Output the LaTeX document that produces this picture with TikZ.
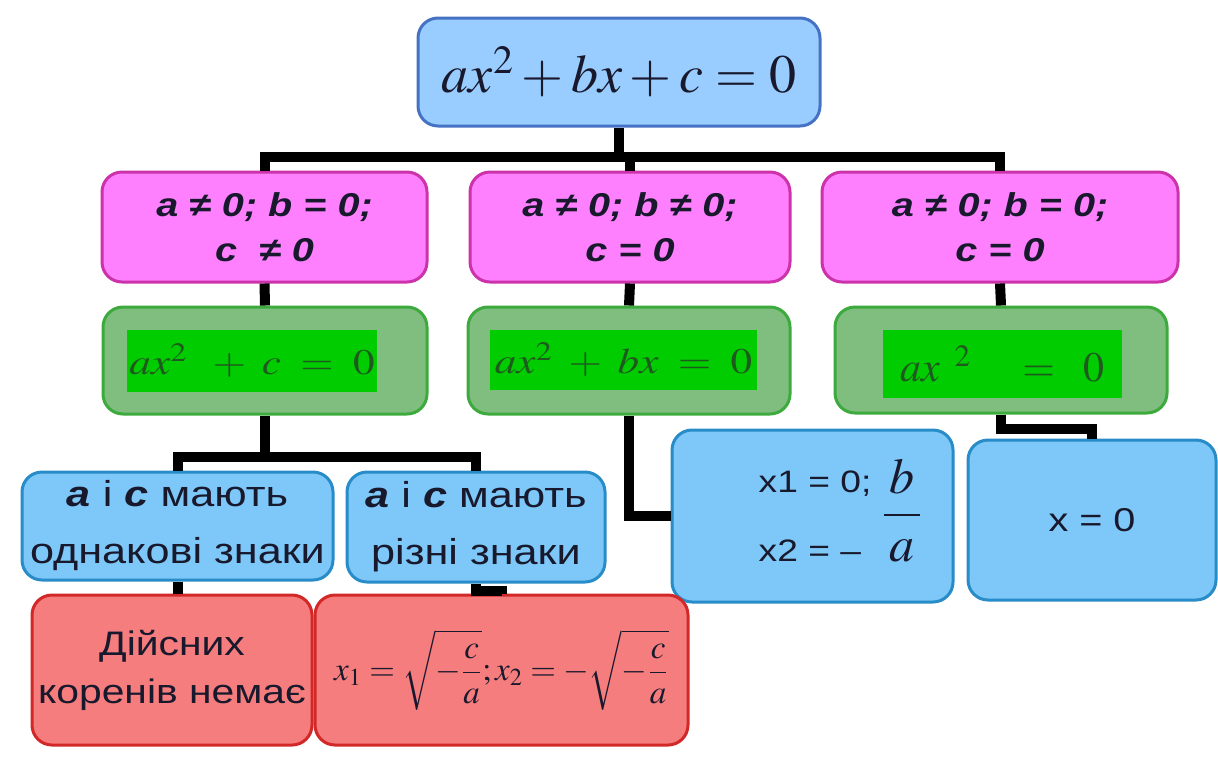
\documentclass[tikz,border=0pt]{standalone}
\usepackage{amsmath}
\usepackage{mathptmx}
\usepackage[no-math]{fontspec}
\usepackage{graphicx}
\newfontfamily\slide{Liberation Sans}[FakeStretch=1.2]
\definecolor{Tfill}{RGB}{153,204,255}
\definecolor{Tline}{RGB}{70,114,196}
\definecolor{Pfill}{RGB}{255,128,255}
\definecolor{Pline}{RGB}{204,51,170}
\definecolor{Gfill}{RGB}{128,190,128}
\definecolor{Gline}{RGB}{60,170,60}
\definecolor{Geq}{RGB}{0,204,0}
\definecolor{Gtext}{RGB}{30,90,30}
\definecolor{Bfill}{RGB}{125,200,248}
\definecolor{Bline}{RGB}{40,140,200}
\definecolor{Rfill}{RGB}{245,125,125}
\definecolor{Rline}{RGB}{210,40,40}
\definecolor{Ink}{RGB}{25,25,45}
\newcommand\widen[1]{\scalebox{1.2}[1]{#1}}
\newcommand\coef[1]{\textbf{\textit{#1}}}

\begin{document}
\begin{tikzpicture}[x=0.5pt,y=-0.5pt,
  box/.style={draw,rounded corners=10pt,line width=1.5pt,inner sep=0pt,align=center,text=Ink},
  topbox/.style={box,fill=Tfill,draw=Tline,font=\fontsize{27}{30}\selectfont},
  condbox/.style={box,fill=Pfill,draw=Pline,font=\slide\bfseries\itshape\fontsize{16.5}{22.5}\selectfont},
  eqbox/.style={box,fill=Gfill,draw=Gline},
  eqfill/.style={fill=Geq,inner sep=0pt,text=Gtext,font=\fontsize{18}{20}\selectfont},
  ansbox/.style={box,fill=Bfill,draw=Bline,font=\slide\fontsize{18}{28.5}\selectfont},
  rootbox/.style={box,fill=Rfill,draw=Rline,font=\slide\fontsize{17}{24}\selectfont},
  link/.style={line width=5pt,black}]
\path[use as bounding box] (0,0) rectangle (1218,772);
% equation and cases
\node[topbox,minimum width=201pt,minimum height=54pt] (top) at (619,72) {$ax^2+bx+c=0$};
\node[condbox,minimum width=162.5pt,minimum height=55pt] (p1) at (264.5,227) {a ≠ 0; b = 0;\\c \ ≠ 0};
\node[condbox,minimum width=160pt,minimum height=55pt] (p2) at (630,227) {a ≠ 0; b ≠ 0;\\c = 0};
\node[condbox,minimum width=178pt,minimum height=55pt] (p3) at (1000,227) {a ≠ 0; b = 0;\\c = 0};
% reduced equations
\node[eqbox,minimum width=162pt,minimum height=53.5pt] (g1) at (265,360.5) {};
\node[eqbox,minimum width=161pt,minimum height=53.5pt] (g2) at (629,360.5) {};
\node[eqbox,minimum width=166pt,minimum height=53pt] (g3) at (1001,360) {};
\node[eqfill,minimum width=125pt,minimum height=31pt] (g1eq) at (252,361) {\widen{$ax^{2}\;\;+\;c\;=\;0$}};
\node[eqfill,minimum width=133.5pt,minimum height=30pt] (g2eq) at (623.5,360) {\widen{$ax^{2}\;+\;bx\;=\;0$}};
\node[eqfill,minimum width=119.5pt,minimum height=34pt,font=\fontsize{21}{24}\selectfont] (g3eq) at (1002.5,364) {$ax^{\;\;2}\quad=\;\;0$};
% answers
\node[ansbox,minimum width=155.5pt,minimum height=54pt] (b1) at (177.5,526) {\coef{a} і \coef{c} мають\\однакові знаки};
\node[ansbox,minimum width=129pt,minimum height=55pt] (b2) at (476,527) {\coef{a} і \coef{c} мають\\різні знаки};
\node[ansbox,minimum width=140.5pt,minimum height=86pt,font=\slide\fontsize{15.5}{18.6}\selectfont] (b3) at (812.5,516)
  {\hspace*{28pt}\begin{tabular}{@{}l@{}}x1 = 0;\\[16pt]x2 = –\end{tabular}\hspace{5pt}{\fontsize{25}{28}\selectfont$\dfrac{\,b\,}{\,a\,}$}};
\node[ansbox,minimum width=124pt,minimum height=80pt,font=\slide\fontsize{16.5}{20}\selectfont] (b4) at (1092,520) {x = 0};
\node[rootbox,minimum width=140pt,minimum height=75pt] (r1) at (172,670) {Дійсних\\коренів немає};
\node[rootbox,minimum width=186.5pt,minimum height=75pt,font=\fontsize{16.5}{18}\selectfont] (r2) at (501.5,670)
  {$\displaystyle x_1=\sqrt{-\frac{c}{a}};x_2=-\sqrt{-\frac{c}{a}}$};
% connectors
\coordinate (topbus) at (0,157);
\coordinate (lowbus) at (0,457);
\draw[link] (top.south) -- (top.south |- topbus);
\draw[link] (p1.north) |- (p3.north |- topbus) -- (p3.north);
\draw[link] (p2.north) -- (p2.north |- topbus);
\draw[link] (p1.south) -- (g1.north);
\draw[link] (p2.south) -- (g2.north);
\draw[link] (p3.south) -- (g3.north);
\draw[link] (g1.south) -- (g1.south |- lowbus);
\draw[link] (b1.north) |- (b2.north |- lowbus) -- (b2.north);
\draw[link] (g2.south) |- (b3.west);
\draw[link] (g3.south) -- ++(0,14) -| (b4.north);
\draw[link] (b1.south) -- (b1.south |- r1.north);
\draw[link] (b2.south) -- ++(0,7) -| (r2.north);
\end{tikzpicture}
\end{document}
